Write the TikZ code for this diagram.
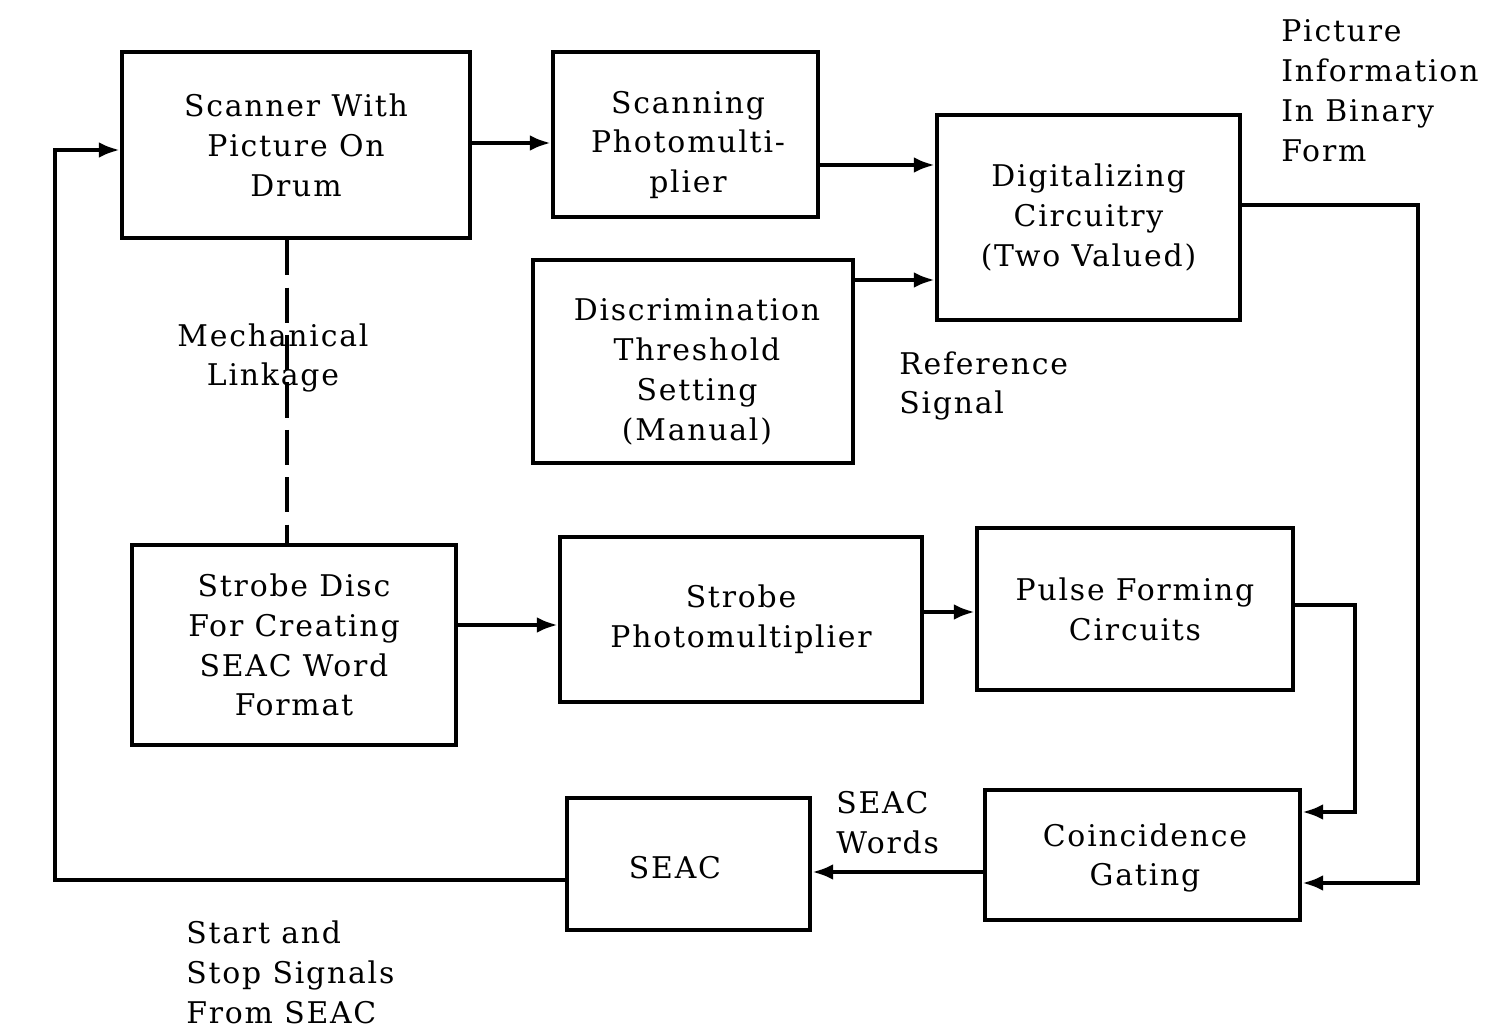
\documentclass[tikz,border=0pt]{standalone}
\usepackage{fontspec}
\setmainfont{DejaVu Serif}[LetterSpace=6]
\usetikzlibrary{arrows.meta,calc}
\begin{document}
\begin{tikzpicture}[x=0.02cm,y=-0.02cm,
  every node/.style={font=\fontsize{17pt}{22.7pt}\selectfont, inner sep=0pt},
  blk/.style={draw, line width=2.4pt, align=center},
  lab/.style={align=left},
  wire/.style={line width=2.4pt},
  arr/.style={wire, -{Latex[length=12pt,width=9pt]}},
  link/.style={line width=2pt, dash pattern=on 20pt off 7pt}]
\useasboundingbox (0,0) rectangle (1485,1030);
\node[blk, minimum width=348*0.02cm, minimum height=186*0.02cm] (scan) at (296,145) {Scanner With\\Picture On\\Drum};
\node[blk, minimum width=265*0.02cm, minimum height=165*0.02cm] (spm) at (685.5,134.5) {};
\node[align=center] (spmt) at (688,145) {Scanning\\Photomulti-\\plier};
\node[blk, minimum width=303*0.02cm, minimum height=205*0.02cm] (dig) at (1088.5,217.5) {Digitalizing\\Circuitry\\(Two Valued)};
\node[blk, minimum width=320*0.02cm, minimum height=203*0.02cm] (disc) at (693,361.5) {};
\node[align=center] (disct) at (697,372) {Discrimination\\Threshold\\Setting\\(Manual)};
\node[blk, minimum width=324*0.02cm, minimum height=200*0.02cm] (sdisc) at (294,645) {Strobe Disc\\For Creating\\SEAC Word\\Format};
\node[blk, minimum width=362*0.02cm, minimum height=165*0.02cm] (stpm) at (741,619.5) {Strobe\\Photomultiplier};
\node[blk, minimum width=316*0.02cm, minimum height=162*0.02cm] (pulse) at (1135,609) {Pulse Forming\\Circuits};
\node[blk, minimum width=315*0.02cm, minimum height=130*0.02cm] (coin) at (1142.5,855) {};
\node[align=center] (coint) at (1145,858) {Coincidence\\Gating};
\node[blk, minimum width=243*0.02cm, minimum height=132*0.02cm] (seac) at (688.5,864) {};
\node (seact) at (675,868) {SEAC};

\coordinate (c1) at (1418,205);
\coordinate (c2) at (1418,883);
\coordinate (c3) at (1355,605);
\coordinate (c4) at (1355,812);
\coordinate (c5) at (55,880);
\coordinate (c6) at (55,150);

\draw[arr] (scan.east |- 0,143) -- (spm.west |- 0,143);
\draw[arr] (spm.east |- 0,165) -- (dig.west |- 0,165);
\draw[arr] (disc.east |- 0,280) -- (dig.west |- 0,280);
\draw[arr] (dig.east |- c1) -- (c1) -- (c2) -- (coin.east |- c2);
\draw[arr] (pulse.east |- c3) -- (c3) -- (c4) -- (coin.east |- c4);
\draw[arr] (sdisc.east |- 0,625) -- (stpm.west |- 0,625);
\draw[arr] (stpm.east |- 0,612) -- (pulse.west |- 0,612);
\draw[arr] (coin.west |- 0,872) -- (seac.east |- 0,872);
\draw[arr] (seac.west |- c5) -- (c5) -- (c6) -- (scan.west |- c6);
\draw[link] (scan.south -| 287,0) -- (sdisc.north -| 287,0);

\node[lab, anchor=west] (pinfo) at (1281,91) {Picture\\Information\\In Binary\\Form};
\node[align=center] (mech) at (273,358) {Mechanical\\Linkage};
\node[lab, anchor=west] (ref) at (899,386) {Reference\\Signal};
\node[lab, anchor=west] (words) at (836,823) {SEAC\\Words};
\node[lab, anchor=west] (ss) at (186,972) {Start and\\Stop Signals\\From SEAC};
\end{tikzpicture}
\end{document}
